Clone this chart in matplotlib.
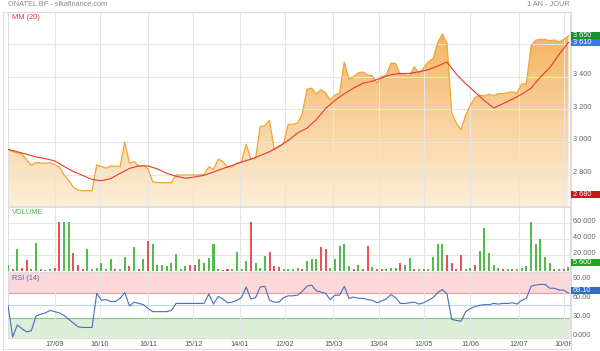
import numpy as np
import pandas as pd
import matplotlib
matplotlib.use('Agg')
import matplotlib.pyplot as plt
import matplotlib.dates as mdates
from matplotlib.colors import LinearSegmentedColormap
from matplotlib.patches import Rectangle

plt.rcParams['font.family'] = ['Liberation Sans', 'DejaVu Sans']

# one sample every 3 calendar days
dates = pd.date_range('2018-08-18', periods=121, freq='3D')

price = [2955, 2941, 2933, 2925, 2890, 2858, 2875, 2871, 2870, 2873,
         2862, 2845, 2798, 2765, 2723, 2706, 2702, 2702, 2702, 2860,
         2850, 2840, 2853, 2853, 2849, 3000, 2870, 2880, 2853, 2857,
         2835, 2755, 2751, 2751, 2751, 2751, 2798, 2798, 2798, 2798,
         2798, 2798, 2800, 2849, 2830, 2895, 2880, 2845, 2848, 2870,
         2880, 2985, 2895, 2900, 3094, 3100, 3133, 2953, 2970, 2990,
         3108, 3108, 3115, 3170, 3322, 3330, 3295, 3320, 3300, 3257,
         3287, 3300, 3490, 3385, 3400, 3424, 3428, 3410, 3406, 3362,
         3400, 3410, 3483, 3481, 3410, 3412, 3405, 3461, 3420, 3455,
         3490, 3510, 3608, 3661, 3604, 3180, 3115, 3075, 3165, 3225,
         3273, 3286, 3282, 3292, 3284, 3296, 3296, 3302, 3306, 3300,
         3355, 3357, 3590, 3624, 3628, 3628, 3620, 3625, 3612, 3628,
         3650]

# MM(20), read every second sample
ma_dates = dates[::2]
ma20 = [2955, 2940, 2925, 2908, 2898, 2884, 2850, 2819, 2795, 2770,
        2763, 2776, 2808, 2838, 2853, 2853, 2835, 2808, 2790, 2778,
        2786, 2796, 2816, 2837, 2857, 2877, 2895, 2917, 2940, 2973,
        3009, 3055, 3085, 3136, 3205, 3255, 3295, 3330, 3360, 3372,
        3393, 3412, 3420, 3420, 3430, 3443, 3465, 3490, 3415, 3357,
        3305, 3253, 3208, 3235, 3262, 3293, 3330, 3398, 3455, 3536,
        3610]

# volume in thousands, direction u = up day, d = down day
volume_k = [7, 2, 28, 4, 14, 2, 35, 2, 1, 2,
            4, 62, 62, 62, 23, 8, 3, 28, 2, 4,
            10, 3, 15, 3, 2, 18, 6, 30, 3, 15,
            38, 34, 8, 8, 6, 10, 21, 3, 6, 8,
            8, 15, 10, 16, 34, 2, 1, 2, 3, 24,
            3, 12, 62, 10, 4, 19, 24, 6, 5, 2,
            3, 2, 4, 3, 12, 15, 15, 30, 28, 4,
            15, 32, 34, 6, 3, 7, 2, 32, 5, 3,
            3, 2, 4, 4, 10, 8, 16, 3, 2, 2,
            3, 18, 34, 34, 20, 10, 3, 20, 3, 4,
            8, 25, 54, 23, 8, 4, 2, 3, 2, 3,
            4, 6, 62, 34, 40, 17, 10, 3, 2, 3, 5.6]
direction = ("ududduuudu" "dduuddduuu" "uuuduududu" "duuuuuuuud"
             "duuuuudduu" "uuduuudddu" "uuuduuuddu" "uuuududdud"
             "duuuduudud" "uuuudddduu" "duuuuududu" "uuuuuuududu")

rsi = [50, 0, 19, 13, 8, 10, 33, 36, 38, 42,
       40, 38, 34, 28, 22, 16, 15, 15, 15, 69,
       58, 59, 56, 56, 61, 70, 49, 55, 53, 51,
       45, 40, 40, 40, 40, 42, 53, 53, 53, 53,
       53, 53, 53, 68, 52, 64, 60, 54, 55, 58,
       62, 79, 60, 62, 79, 80, 58, 55, 55, 62,
       65, 65, 66, 72, 80, 82, 73, 71, 69, 59,
       66, 66, 80, 61, 63, 61, 61, 59, 58, 54,
       57, 60, 67, 62, 53, 53, 54, 55, 52, 54,
       58, 62, 70, 75, 68, 28, 26, 25, 40, 45,
       48, 50, 51, 51, 53, 52, 53, 53, 54, 52,
       58, 61, 80, 82, 83, 83, 77, 77, 74, 74, 69.1]

tick_dates = pd.to_datetime(['2018-09-17', '2018-10-16', '2018-11-16', '2018-12-15',
                             '2019-01-14', '2019-02-12', '2019-03-15', '2019-04-13',
                             '2019-05-12', '2019-06-11', '2019-07-12', '2019-08-10'])
price_ticks = [2800, 3000, 3200, 3400, 3600]
vol_ticks = [20000, 40000, 60000]
rsi_ticks = [0, 30, 60, 90]
rsi_tick_labels = ['0.000', '30.00', '60.00', '90.00']

last_price = 3650
last_ma = 3610
period_low = 2680
last_volume = 5600
last_rsi = 69.10

W, H = 600, 351
fig = plt.figure(figsize=(W / 100, H / 100), dpi=100)


def rect(top, bottom):
    return [8 / W, 1 - bottom / H, 562 / W, (bottom - top) / H]


ax_p = fig.add_axes(rect(12.5, 206))
ax_v = fig.add_axes(rect(206.5, 271.5))
ax_r = fig.add_axes(rect(272, 338))

xn = mdates.date2num(dates)
xma = mdates.date2num(ma_dates)
xt = mdates.date2num(tick_dates)
xlim = (mdates.date2num(pd.Timestamp('2018-08-18')), mdates.date2num(pd.Timestamp('2019-08-14')))

grid_c = '#e6e6e6'
spine_c = '#dedede'
lab_c = '#666666'
fs = 5.3

# --- price panel
ylo, yhi = 2608, 3793
fill = ax_p.fill_between(xn, price, ylo, facecolor='none', edgecolor='none')
cmap = LinearSegmentedColormap.from_list('sika', ['#fdeed6', '#f5ad52'])
grad = np.linspace(0, 1, 256).reshape(-1, 1)
im = ax_p.imshow(grad, cmap=cmap, origin='lower', aspect='auto',
                 extent=[xn[0], xn[-1], ylo, 3680], zorder=1, alpha=0.92)
im.set_clip_path(fill.get_paths()[0], transform=ax_p.transData)
ax_p.plot(xn, price, color='#f2a533', lw=0.9, zorder=3)
ax_p.plot(xma, ma20, color='#e8392f', lw=0.8, zorder=4)
ax_p.set_ylim(ylo, yhi)
ax_p.set_yticks(price_ticks)
ax_p.grid(True, color=grid_c, lw=0.8)

# --- volume panel
colors = ['#55bb4f' if d == 'u' else '#e8525a' for d in direction]
ax_v.bar(xn, np.array(volume_k) * 1000, width=1.3, color=colors, zorder=3)
ax_v.set_ylim(-630, 81100)
ax_v.set_yticks(vol_ticks)
ax_v.grid(True, color=grid_c, lw=0.8)

# --- RSI panel
ax_r.axhspan(70, 110, color='#fdd8d8', zorder=0, lw=0)
ax_r.axhspan(-5, 30, color='#ddefd9', zorder=0, lw=0)
ax_r.axhline(70, color='#f2a0a0', lw=0.9, zorder=1)
ax_r.axhline(30, color='#8cc689', lw=0.9, zorder=1)
ax_r.axhline(50, color='#bdd1ea', lw=0.8, zorder=1)
ax_r.plot(xn, rsi, color='#4470b8', lw=0.8, zorder=3)
ax_r.set_ylim(-1.6, 102.6)
ax_r.set_yticks([])
ax_r.grid(True, axis='x', color=grid_c, lw=0.8)

for ax in (ax_p, ax_v, ax_r):
    ax.set_xlim(*xlim)
    ax.set_xticks(xt)
    ax.tick_params(length=0, labelleft=False, labelbottom=False)
    for s in ax.spines.values():
        s.set_color(spine_c)
        s.set_linewidth(0.8)

ax_r.tick_params(labelbottom=True, pad=2.5, labelsize=fs, labelcolor='#555555')
ax_r.set_xticklabels(tick_dates.strftime('%d/%m'))


def ypix(ax, v):
    return ax.transData.transform((xlim[0], v))[1]


def fmt(v):
    return f"{v:,.0f}".replace(',', ' ')


for v in price_ticks:
    fig.text(573 / W, (ypix(ax_p, v) + 2) / H, fmt(v), fontsize=fs, color=lab_c, va='center')
for v in vol_ticks:
    fig.text(573 / W, (ypix(ax_v, v) + 1.5) / H, fmt(v), fontsize=fs, color=lab_c, va='center')
for v, t in zip(rsi_ticks, rsi_tick_labels):
    fig.text(573 / W, (ypix(ax_r, v) + 1.5) / H, t, fontsize=fs, color=lab_c, va='center')


def badge(yp, text, color):
    fig.patches.append(Rectangle((571 / W, (yp - 3.7) / H), 29 / W, 7.4 / H,
                                 transform=fig.transFigure, fc=color, ec='none', zorder=5))
    fig.text(573 / W, yp / H, text, fontsize=fs, color='white', va='center', zorder=6)


badge(ypix(ax_p, last_price), fmt(last_price), '#16922a')
badge(ypix(ax_p, last_ma), fmt(last_ma), '#3b7ad6')
badge(ypix(ax_p, period_low), fmt(period_low), '#c8161d')
badge(ypix(ax_v, last_volume) + 3.8, fmt(last_volume), '#1fa524')
badge(ypix(ax_r, last_rsi) + 3, f"{last_rsi:.2f}", '#2f6ebf')

# titles and panel names
fig.text(8 / W, 1 - 5 / H, 'ONATEL BF - sikafinance.com', fontsize=fs, color='#888888', va='center')
fig.text(570 / W, 1 - 5 / H, '1 AN - JOUR', fontsize=fs, color='#888888', va='center', ha='right')
fig.text(11.7 / W, 1 - 17.3 / H, 'MM (20)', fontsize=fs, color='#e8392f', va='center')
fig.text(11.7 / W, 1 - 212.7 / H, 'VOLUME', fontsize=fs, color='#55bb4f', va='center')
fig.text(12 / W, 1 - 278.3 / H, 'RSI (14)', fontsize=fs, color='#4470b8', va='center')

fig.patches.append(Rectangle((2.7 / W, 1 - 349.3 / H), 568 / W, 337 / H, fill=False,
                             ec=spine_c, lw=0.8, transform=fig.transFigure))

fig.savefig('out.png', dpi=100)
